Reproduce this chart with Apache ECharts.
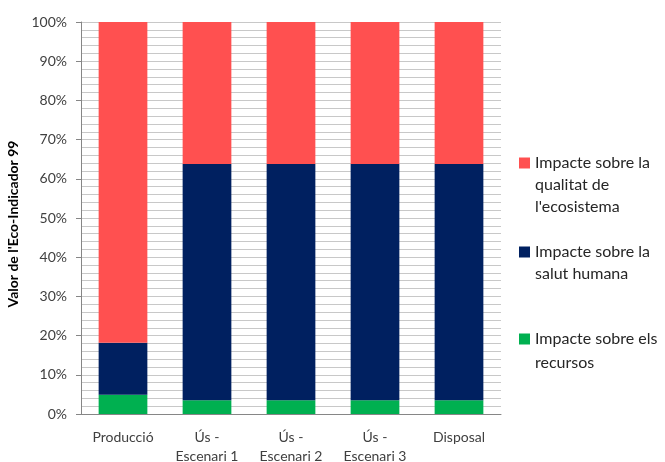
<!DOCTYPE html>
<html>
<head>
<meta charset="utf-8">
<script src="https://cdn.jsdelivr.net/npm/echarts@6/dist/echarts.min.js"></script>
<style>
  html, body { margin: 0; padding: 0; background: #fff; }
  #chart { width: 665px; height: 462px; }
</style>
</head>
<body>
<div id="chart"></div>
<script>
// Eco-Indicator 99 share per life-cycle stage (percent of total)
const categories = ['Producció', 'Ús -\nEscenari 1', 'Ús -\nEscenari 2', 'Ús -\nEscenari 3', 'Disposal'];
const recursos   = [4.9, 3.5, 3.5, 3.5, 3.5];
const salut      = [13.3, 60.3, 60.3, 60.3, 60.3];
const ecosistema = [81.8, 36.2, 36.2, 36.2, 36.2];

const seriesNames = [
  'Impacte sobre els recursos',
  'Impacte sobre la salut humana',
  'Impacte sobre la qualitat de l\'ecosistema'
];
// legend text, wrapped over several lines; leading blank lines keep the
// swatch level with the first line of each entry
const legendText = {
  'Impacte sobre la qualitat de l\'ecosistema': '\n\nImpacte sobre la\nqualitat de\nl\'ecosistema',
  'Impacte sobre la salut humana': '\nImpacte sobre la\nsalut humana',
  'Impacte sobre els recursos': '\nImpacte sobre els\nrecursos'
};
const colors = ['#00B050', '#002060', '#FF5050'];
const yTicks = [0, 10, 20, 30, 40, 50, 60, 70, 80, 90, 100];

const FONT = 'Lato, "Open Sans", sans-serif';

function legendFor(name, top, lineHeight) {
  return {
    data: [name],
    orient: 'vertical',
    left: 514,
    top: top,
    icon: 'rect',
    itemWidth: 11,
    itemHeight: 11,
    itemGap: 0,
    itemStyle: { borderWidth: 0 },
    selectedMode: false,
    formatter: n => legendText[n],
    textStyle: { fontFamily: FONT, fontSize: 16, color: '#262626', lineHeight: lineHeight }
  };
}

const chart = echarts.init(document.getElementById('chart'));
chart.setOption({
  animation: false,
  color: colors,
  grid: { left: 81, right: 164, top: 22, bottom: 48, containLabel: false, outerBoundsMode: 'none' },
  legend: [
    legendFor(seriesNames[2], 103, 22),
    legendFor(seriesNames[1], 214, 22),
    legendFor(seriesNames[0], 298, 24)
  ],
  xAxis: {
    type: 'category',
    data: categories,
    axisLine: { show: true, lineStyle: { color: '#868686', width: 1 } },
    axisTick: { show: false },
    axisLabel: { fontFamily: FONT, fontSize: 14, color: '#404040', margin: 14, lineHeight: 19 }
  },
  yAxis: {
    type: 'value',
    min: 0,
    max: 100,
    interval: 10,
    name: 'Valor de l\'Eco-Indicador 99',
    nameLocation: 'middle',
    nameGap: 60,
    nameRotate: 90,
    nameTextStyle: {
      fontFamily: FONT, fontSize: 14, fontWeight: 'bold', color: '#000',
      padding: [0, 12, 0, 0]
    },
    axisLine: { show: true, lineStyle: { color: '#868686', width: 1 } },
    axisTick: { show: true, length: 5, lineStyle: { color: '#868686' } },
    axisLabel: {
      fontFamily: FONT, fontSize: 14, color: '#404040', margin: 14,
      formatter: v => yTicks.includes(v) ? v + '%' : ''
    },
    splitLine: { show: true, lineStyle: { color: '#c8c8c8', width: 1 } },
    minorTick: { show: false, splitNumber: 5 },
    minorSplitLine: { show: true, lineStyle: { color: '#c8c8c8', width: 1 } }
  },
  series: [
    { name: seriesNames[0], type: 'bar', stack: 'total', barWidth: '58%', data: recursos },
    { name: seriesNames[1], type: 'bar', stack: 'total', barWidth: '58%', data: salut },
    { name: seriesNames[2], type: 'bar', stack: 'total', barWidth: '58%', data: ecosistema }
  ]
});
</script>
</body>
</html>
